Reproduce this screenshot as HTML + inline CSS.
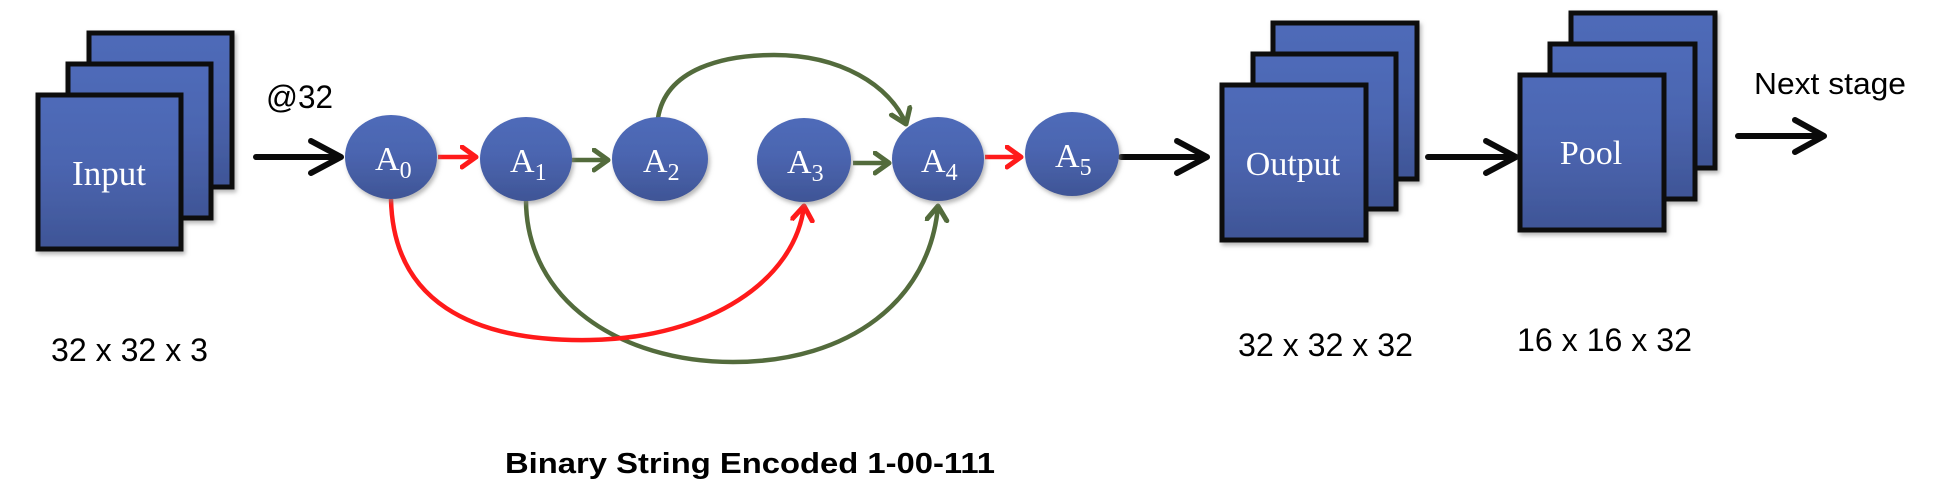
<!DOCTYPE html>
<html><head><meta charset="utf-8"><style>
html,body{margin:0;padding:0;background:#fff;}
svg{display:block;}
</style></head><body>
<svg width="1950" height="496" viewBox="0 0 1950 496" xmlns="http://www.w3.org/2000/svg">
<defs>
<linearGradient id="g" x1="0" y1="0" x2="0" y2="1">
<stop offset="0" stop-color="#4f6bb9"/><stop offset="0.45" stop-color="#4b65b0"/><stop offset="1" stop-color="#3f5596"/>
</linearGradient>
<filter id="sh" x="-10%" y="-10%" width="130%" height="130%"><feDropShadow dx="2" dy="3" stdDeviation="2" flood-color="#888" flood-opacity="0.6"/></filter>
<marker id="mr" markerUnits="userSpaceOnUse" markerWidth="30" markerHeight="30" refX="16" refY="12" orient="auto"><path d="M2,2 L16,12 L2,22" fill="none" stroke="#ff1a1a" stroke-width="5" stroke-linecap="round" stroke-linejoin="round"/></marker>
<marker id="mg" markerUnits="userSpaceOnUse" markerWidth="30" markerHeight="30" refX="16" refY="12" orient="auto"><path d="M2,2 L16,12 L2,22" fill="none" stroke="#536b3c" stroke-width="5" stroke-linecap="round" stroke-linejoin="round"/></marker>
</defs>

<g font-family="Liberation Sans, sans-serif" fill="#000">
<!-- Input stack -->
<g stroke="#111" stroke-width="5" fill="url(#g)" filter="url(#sh)">
<rect x="89" y="33" width="143" height="154"/>
<rect x="68" y="64" width="143" height="154"/>
<rect x="38" y="95" width="143" height="154"/>
</g>
<text x="109" y="185" font-family="Liberation Serif, serif" font-size="35" fill="#fff" text-anchor="middle">Input</text>
<text x="51" y="361" font-size="32" textLength="157" lengthAdjust="spacingAndGlyphs">32 x 32 x 3</text>
<text x="266" y="108" font-size="32" textLength="67" lengthAdjust="spacingAndGlyphs">@32</text>

<!-- black arrows -->
<g stroke="#0a0a0a" stroke-width="6" fill="none" stroke-linecap="round" stroke-linejoin="round">
<line x1="256" y1="157" x2="340" y2="157"/><path d="M311,141 L341,157 L311,173"/>
<line x1="1121" y1="157" x2="1206" y2="157"/><path d="M1177,141 L1207,157 L1177,173"/>
<line x1="1428" y1="157" x2="1515" y2="157"/><path d="M1486,141 L1516,157 L1486,173"/>
<line x1="1738" y1="136" x2="1822" y2="136"/><path d="M1795,120 L1824,136 L1795,152"/>
</g>

<!-- curves -->
<g fill="none" stroke-width="4.5">
<path d="M658,118 C666,68 725,55 774,55 C840,55 890,85 906,124" stroke="#536b3c" marker-end="url(#mg)"/>
<path d="M526,200 C526,300 620,362 733,362 C850,362 930,300 938,206" stroke="#536b3c" marker-end="url(#mg)"/>
<path d="M391,199 C393,300 470,342 590,340 C710,338 795,280 804,206" stroke="#ff1a1a" marker-end="url(#mr)"/>
<line x1="438" y1="157" x2="476" y2="157" stroke="#ff1a1a" marker-end="url(#mr)"/>
<line x1="571" y1="160" x2="608" y2="160" stroke="#536b3c" marker-end="url(#mg)"/>
<line x1="853" y1="163" x2="889" y2="163" stroke="#536b3c" marker-end="url(#mg)"/>
<line x1="985" y1="157" x2="1021" y2="157" stroke="#ff1a1a" marker-end="url(#mr)"/>
</g>

<!-- nodes -->
<g fill="url(#g)" filter="url(#sh)">
<ellipse cx="391" cy="157" rx="46" ry="42"/>
<ellipse cx="526" cy="159" rx="46" ry="42"/>
<ellipse cx="660" cy="159" rx="48" ry="42"/>
<ellipse cx="804" cy="160" rx="47" ry="42"/>
<ellipse cx="938" cy="159" rx="46" ry="42"/>
<ellipse cx="1072" cy="154" rx="47" ry="42"/>
</g>
<g font-family="Liberation Serif, serif" fill="#fff" font-size="34">
<text x="375" y="170">A<tspan font-size="24" dy="8">0</tspan></text>
<text x="510" y="172">A<tspan font-size="24" dy="8">1</tspan></text>
<text x="643" y="172">A<tspan font-size="24" dy="8">2</tspan></text>
<text x="787" y="173">A<tspan font-size="24" dy="8">3</tspan></text>
<text x="921" y="172">A<tspan font-size="24" dy="8">4</tspan></text>
<text x="1055" y="167">A<tspan font-size="24" dy="8">5</tspan></text>
</g>

<!-- Output stack -->
<g stroke="#111" stroke-width="5" fill="url(#g)" filter="url(#sh)">
<rect x="1273" y="23" width="144" height="156"/>
<rect x="1253" y="54" width="143" height="155"/>
<rect x="1222" y="85" width="144" height="155"/>
</g>
<text x="1293" y="175" font-family="Liberation Serif, serif" font-size="34" fill="#fff" text-anchor="middle">Output</text>
<text x="1238" y="356" font-size="32" textLength="175" lengthAdjust="spacingAndGlyphs">32 x 32 x 32</text>

<!-- Pool stack -->
<g stroke="#111" stroke-width="5" fill="url(#g)" filter="url(#sh)">
<rect x="1571" y="13" width="144" height="155"/>
<rect x="1550" y="44" width="145" height="155"/>
<rect x="1520" y="75" width="144" height="155"/>
</g>
<text x="1591" y="164" font-family="Liberation Serif, serif" font-size="34" fill="#fff" text-anchor="middle">Pool</text>
<text x="1517" y="351" font-size="32" textLength="175" lengthAdjust="spacingAndGlyphs">16 x 16 x 32</text>
<text x="1754" y="94" font-size="31" textLength="152" lengthAdjust="spacingAndGlyphs">Next stage</text>

<text x="505" y="473" font-size="29" font-weight="bold" textLength="490" lengthAdjust="spacingAndGlyphs">Binary String Encoded 1-00-111</text>
</g>
</svg>
</body></html>
